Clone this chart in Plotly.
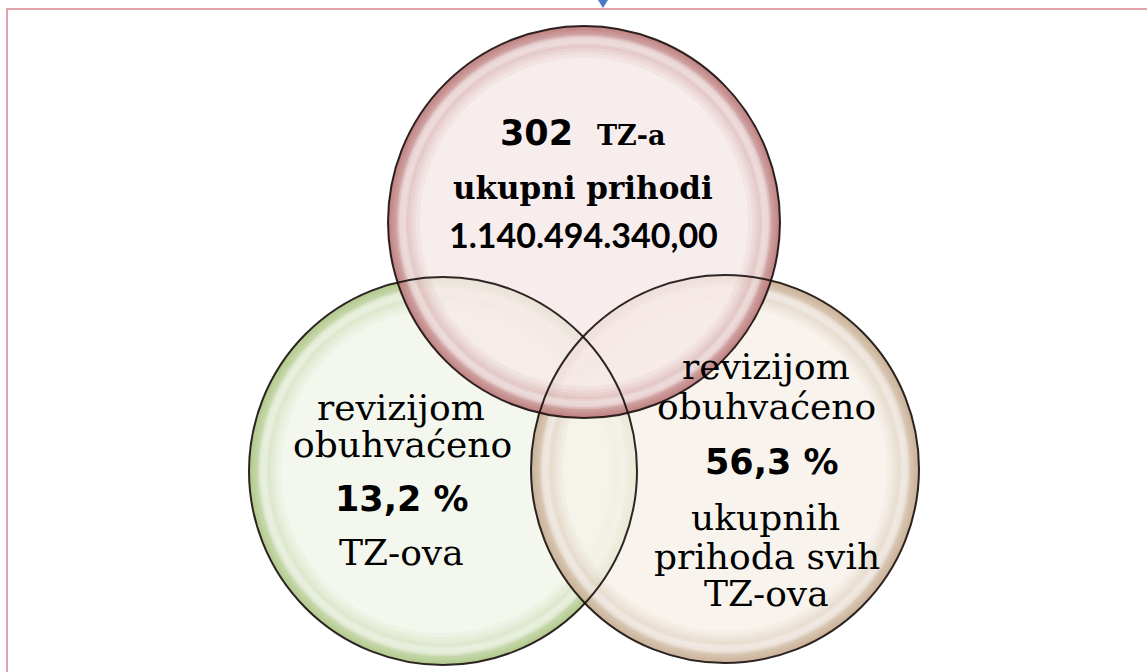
import numpy as np
import plotly.graph_objects as go

# ---- data ----
total_tz = 302
total_income = 1140494340.00
pct_tz_covered = 13.2
pct_income_covered = 56.3

def hr_number(v):
    s = f"{v:,.2f}"
    return s.replace(",", "X").replace(".", ",").replace("X", ".")

def hr_pct(v):
    return f"{v:.1f}".replace(".", ",") + " %"

W, H = 1147, 672

# ---- circle layout (geometry only) ----
circles = [
    # name, cx, cy, r, center colour, rim colour
    ("green", 443, 471, 194, (241, 245, 233), (146, 180, 96)),
    ("tan", 725, 469, 194, (246, 242, 233), (186, 160, 116)),
    ("red", 584, 222, 196, (247, 233, 233), (176, 90, 92)),
]

def ring_path(cx, cy, r_out, r_in, n=200):
    t = np.linspace(0, 2 * np.pi, n, endpoint=False)
    xo, yo = cx + r_out * np.cos(t), cy + r_out * np.sin(t)
    p = "M " + " L ".join(f"{x:.2f},{y:.2f}" for x, y in zip(xo, yo)) + " Z"
    if r_in > 0:
        xi, yi = cx + r_in * np.cos(t[::-1]), cy + r_in * np.sin(t[::-1])
        p += " M " + " L ".join(f"{x:.2f},{y:.2f}" for x, y in zip(xi, yi)) + " Z"
    return p

def rgba(c, a):
    return f"rgba({c[0]},{c[1]},{c[2]},{a})"

shapes = []
# page border and small marker
shapes.append(dict(type="rect", xref="x", yref="y", x0=7, y0=9, x1=W + 20, y1=H + 20,
                   line=dict(color="#e3a3aa", width=2), fillcolor="rgba(0,0,0,0)", layer="below"))
shapes.append(dict(type="path", xref="x", yref="y", path="M 598,0 L 608,0 L 603,8 Z",
                   fillcolor="#4a78c4", line=dict(width=0)))

rim_steps = [1, 2, 3, 4, 5, 6, 7, 8.5, 10, 11.5, 13, 15, 17, 19.5, 22, 25, 28, 32]
for name, cx, cy, r, cc, ec in circles:
    shapes.append(dict(type="path", xref="x", yref="y", path=ring_path(cx, cy, r, 0),
                       fillcolor=rgba(cc, 0.82), line=dict(width=0)))
    for s in rim_steps:
        shapes.append(dict(type="path", xref="x", yref="y", path=ring_path(cx, cy, r, r - s),
                           fillcolor=rgba(ec, 0.06), line=dict(width=0)))
    for a, b, op in [(9, 19, 0.25), (11, 17, 0.3)]:
        shapes.append(dict(type="path", xref="x", yref="y", path=ring_path(cx, cy, r - a, r - b),
                           fillcolor=f"rgba(255,255,255,{op})", line=dict(width=0)))

for name, cx, cy, r, cc, ec in circles:
    shapes.append(dict(type="circle", xref="x", yref="y", x0=cx - r, x1=cx + r, y0=cy - r, y1=cy + r,
                       line=dict(color="rgba(25,15,15,0.9)", width=2), fillcolor="rgba(0,0,0,0)"))

serif = "DejaVu Serif"
sans = "DejaVu Sans"

ann = []
def add(text, x, y, family, size, bold=False):
    ann.append(dict(text=f"<b>{text}</b>" if bold else text, x=x, y=y, xref="x", yref="y",
                    showarrow=False, xanchor="center", yanchor="middle",
                    font=dict(family=family, size=size, color="#000000")))

add(str(total_tz), 536, 133, sans, 35, True)
add("TZ-a", 631, 135, serif, 27, True)
add("ukupni prihodi", 583, 188, serif, 31, True)
add(hr_number(total_income), 583, 234, "Lato", 34, True)

add("revizijom", 401, 407, serif, 36)
add("obuhvaćeno", 402, 444, serif, 36)
add(hr_pct(pct_tz_covered), 402, 499, sans, 35, True)
add("TZ-ova", 401, 552, serif, 36)

add("revizijom", 766, 366, serif, 36)
add("obuhvaćeno", 766, 406, serif, 36)
add(hr_pct(pct_income_covered), 772, 462, sans, 35, True)
add("ukupnih", 765, 517, serif, 36)
add("prihoda svih", 767, 556, serif, 36)
add("TZ-ova", 766, 593, serif, 36)

fig = go.Figure()
fig.update_layout(
    width=W, height=H, margin=dict(l=0, r=0, t=0, b=0),
    paper_bgcolor="white", plot_bgcolor="white",
    xaxis=dict(range=[0, W], visible=False, fixedrange=True),
    yaxis=dict(range=[H, 0], visible=False, fixedrange=True),
    shapes=shapes, annotations=ann, showlegend=False,
)
fig.write_html("out.html", post_script="document.body.style.margin='0px';",
               config={"displayModeBar": False})
